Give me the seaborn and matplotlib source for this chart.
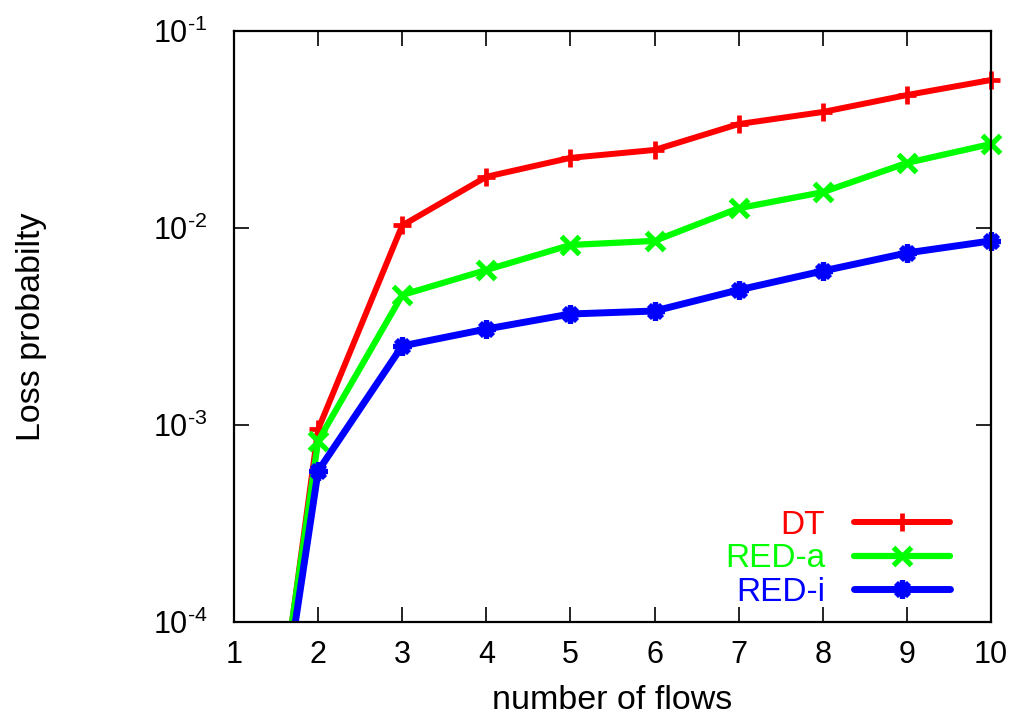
import matplotlib
matplotlib.use("Agg")
import matplotlib.pyplot as plt
import seaborn as sns
import numpy as np
import pandas as pd
from matplotlib.ticker import NullLocator, FixedLocator
from matplotlib.patches import Rectangle

# ---- data ----
flows = [1, 2, 3, 4, 5, 6, 7, 8, 9, 10]
dt = [6.6e-7, 9.5e-4, 1.03e-2, 1.82e-2, 2.27e-2, 2.49e-2, 3.37e-2, 3.88e-2, 4.73e-2, 5.64e-2]
red_a = [8.9e-7, 8.3e-4, 4.57e-3, 6.12e-3, 8.2e-3, 8.6e-3, 1.26e-2, 1.52e-2, 2.14e-2, 2.67e-2]
red_i = [8.5e-7, 5.84e-4, 2.52e-3, 3.07e-3, 3.66e-3, 3.79e-3, 4.85e-3, 6.05e-3, 7.47e-3, 8.6e-3]
labels = ["DT", "RED-a", "RED-i"]
x_ticks = [1, 2, 3, 4, 5, 6, 7, 8, 9, 10]
y_ticks = [1e-4, 1e-3, 1e-2, 1e-1]
y_tick_labels = [r"$\mathdefault{10^{\text{-}4}}$", r"$\mathdefault{10^{\text{-}3}}$",
                 r"$\mathdefault{10^{\text{-}2}}$", r"$\mathdefault{10^{\text{-}1}}$"]

sns.set_theme(style="white")
plt.rcParams["font.family"] = ["Liberation Sans", "DejaVu Sans"]
plt.rcParams["mathtext.fontset"] = "custom"
plt.rcParams["mathtext.rm"] = "Liberation Sans"
plt.rcParams["mathtext.it"] = "Liberation Sans"
plt.rcParams["mathtext.bf"] = "Liberation Sans"

fig = plt.figure(figsize=(10.33, 7.21), dpi=100)
ax = fig.add_axes([234/1033, 1 - 622/721, (991-234)/1033, (622-31)/721])

series = [dt, red_a, red_i]
colors = ["#ff0000", "#00ff00", "#0000ff"]
markers = ["+", "x", (8, 2, 0)]
lws = [4.3, 4.5, 5.0]
mss = [13, 13, 13]
mews = [3.4, 3.8, 3.8]

for vals, lab, c, m, lw, ms, mew in zip(series, labels, colors, markers, lws, mss, mews):
    df = pd.DataFrame({"flows": flows, "loss": vals})
    sns.lineplot(data=df, x="flows", y="loss", ax=ax, color=c, marker=m,
                 linewidth=lw, markersize=ms, markeredgewidth=mew,
                 markeredgecolor=c, label=lab)

# let markers at the right edge extend past the frame, but clip the bottom
clip = Rectangle((0, 0), 1.05, 1.05, transform=ax.transAxes, facecolor="none", edgecolor="none")
ax.add_patch(clip)
for ln in ax.get_lines():
    ln.set_clip_path(clip)

ax.set_yscale("log")
ax.set_xlim(1, 10)
ax.set_ylim(1e-4, 1e-1)
ax.xaxis.set_major_locator(FixedLocator(x_ticks))
ax.yaxis.set_major_locator(FixedLocator(y_ticks))
ax.yaxis.set_minor_locator(NullLocator())
ax.xaxis.set_minor_locator(NullLocator())
ax.set_yticklabels(y_tick_labels)

ax.tick_params(axis="both", which="major", direction="in", length=11, width=1.2,
               color="black", labelsize=22, labelcolor="black",
               top=True, right=True, bottom=True, left=True)
ax.tick_params(axis="x", pad=13)
ax.tick_params(axis="y", pad=19)

for sp in ax.spines.values():
    sp.set_color("black")
    sp.set_linewidth(1.6)
    sp.set_visible(True)

ax.set_xlabel("number of flows", fontsize=24.5, color="black", labelpad=11)
ax.set_ylabel("Loss probabilty", fontsize=24.5, color="black")
ax.yaxis.set_label_coords(-0.247, 0.5)

leg = ax.legend(loc="lower right", bbox_to_anchor=(0.946, 0.024), frameon=False,
                markerfirst=False, fontsize=24, handlelength=2.88, handletextpad=0.87,
                labelspacing=0.07, borderpad=0, borderaxespad=0, labelcolor="linecolor")

fig.savefig("out.png", dpi=100)
